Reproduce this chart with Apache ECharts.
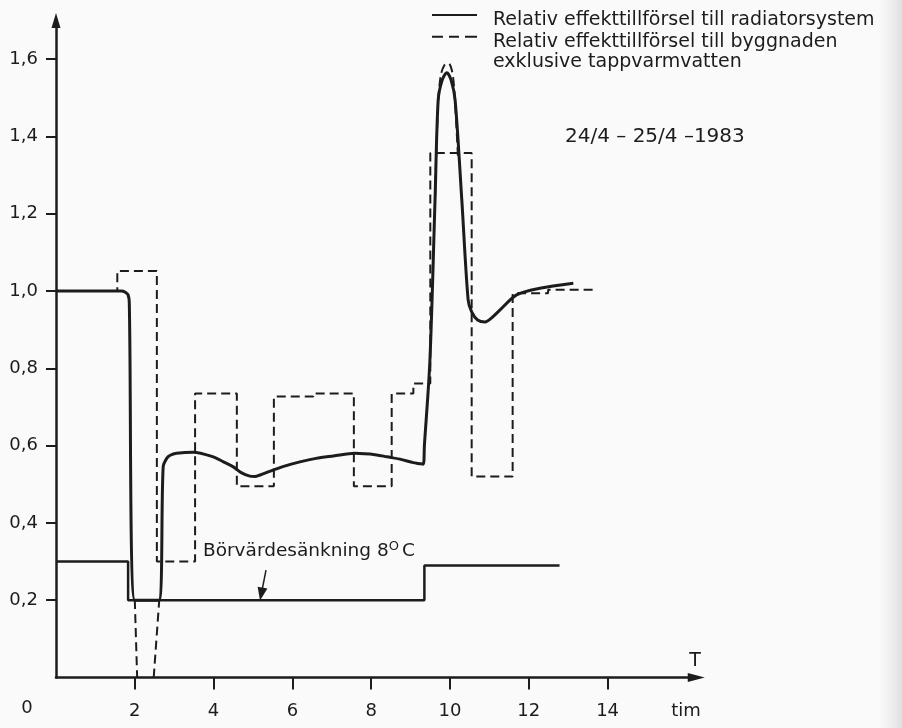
<!DOCTYPE html>
<html><head><meta charset="utf-8">
<script src="https://cdn.jsdelivr.net/npm/echarts@6/dist/echarts.min.js"></script>
<style>html,body{margin:0;padding:0;background:#fafafa}#c{width:902px;height:728px}</style>
</head><body><div id="c"></div>
<script>
// ---- data (time in hours, relative power) ----
const seriesNames = [
  'Relativ effekttillförsel till radiatorsystem',
  'Relativ effekttillförsel till byggnaden exklusive tappvarmvatten'
];
const setpointName = 'Börvärdesänkning 8°C';

// solid: radiator system
const radiatorT = [0, 1.66, 1.76, 1.83, 1.86, 2.0, 2.61, 2.72, 2.81, 2.9, 3.06, 3.48, 3.99, 4.25, 4.5, 4.7, 4.92, 5.05, 5.18, 5.52, 5.8, 6.19, 6.6, 7.04, 7.59, 8.14, 8.4, 8.73, 9.07, 9.2, 9.32, 9.35, 9.49, 9.62, 9.70, 9.80, 9.92, 10.03, 10.13, 10.30, 10.46, 10.55, 10.7, 10.89, 11.05, 11.27, 11.69, 12.28, 13.13];
const radiatorV = [1.0, 1.0, 0.997, 0.99, 0.97, 0.2, 0.2, 0.545, 0.567, 0.575, 0.58, 0.583, 0.571, 0.558, 0.545, 0.53, 0.521, 0.52, 0.524, 0.537, 0.547, 0.558, 0.567, 0.573, 0.58, 0.576, 0.571, 0.565, 0.556, 0.554, 0.552, 0.6, 0.82, 1.235, 1.494, 1.545, 1.565, 1.545, 1.494, 1.235, 0.977, 0.946, 0.925, 0.92, 0.93, 0.951, 0.99, 1.007, 1.02];

// dashed: building, hourly step levels (level holds from t until next t)
const buildingStepT = [0, 1.556, 2.56, 3.53, 4.59, 5.53, 6.53, 7.56, 8.52, 9.07, 9.50, 10.55, 11.59, 12.49, 13.64];
const buildingStepV = [1.0, 1.052, 0.30, 0.735, 0.495, 0.727, 0.735, 0.495, 0.735, 0.761, 1.357, 0.52, 0.994, 1.003, 1.003];

// dashed: building, transients (null = gap)
const buildingTransT = [2.0, 2.06, 2.27, 2.48, 2.62, 6.0, 9.62, 9.70, 9.77, 9.86, 9.96, 10.05, 10.11, 10.2];
const buildingTransV = [0.2, 0.0, null, 0.0, 0.2, null, 1.24, 1.49, 1.56, 1.585, 1.59, 1.57, 1.52, 1.35];

// setpoint reduction curve
const setpointT = [0, 1.83, 9.35, 12.78];
const setpointV = [0.3, 0.2, 0.29, 0.29];

// annotation arrow (data space)
const arrowT = [5.33, 5.21];
const arrowV = [0.278, 0.216];

// ticks
const xTicks = [2, 4, 6, 8, 10, 12, 14];
const yTicks = [0.2, 0.4, 0.6, 0.8, 1.0, 1.2, 1.4, 1.6];

// ---- chart ----
const INK = '#1c1c1c';
const FONT = '"DejaVu Sans", sans-serif';
const zip = (T, V) => T.map((t, i) => [t, V[i] === null ? '-' : V[i]]);
const legendText = {fontSize: 19, lineHeight: 20, fontFamily: FONT, color: INK};
// legend key glyphs (line sample sits near the top of the key box so the text starts a little lower)
const solidKey = 'path://M0,0H45V2H0Z M56,12L56,12.01Z';
const dashedKey = 'path://M0,0L0,0.01Z M0,3.2H11V5.2H0Z M17,3.2H27V5.2H17Z M33,3.2H45V5.2H33Z M56,40L56,39.99Z';

const chart = echarts.init(document.getElementById('c'), null, {renderer: 'canvas'});
chart.setOption({
  backgroundColor: '#fafafa',
  animation: false,
  color: [INK, INK, INK, INK],
  grid: {left: 56, right: 205.75, top: 20.5, bottom: 50.5, containLabel: false, outerBoundsMode: 'none'},
  xAxis: {
    type: 'value', min: 0, max: 16.25,
    axisLine: {show: true, onZero: false, symbol: ['none', 'triangle'], symbolSize: [9, 17], lineStyle: {color: INK, width: 2.5}},
    axisTick: {show: true, customValues: xTicks, length: 12, lineStyle: {color: INK, width: 2}},
    axisLabel: {customValues: xTicks, margin: 25, fontSize: 18, fontFamily: FONT, color: INK},
    splitLine: {show: false}
  },
  yAxis: {
    type: 'value', min: 0, max: 1.7,
    axisLine: {show: true, onZero: false, symbol: ['none', 'triangle'], symbolSize: [9, 15], lineStyle: {color: INK, width: 2.5}},
    axisTick: {show: true, customValues: yTicks, length: 10, lineStyle: {color: INK, width: 2}},
    axisLabel: {customValues: yTicks, margin: 18, fontSize: 18, fontFamily: FONT, color: INK,
      formatter: v => v.toFixed(1).replace('.', ',')},
    splitLine: {show: false}
  },
  legend: [
    {
      data: [{name: seriesNames[0], icon: solidKey}],
      left: 432, top: 10, padding: 0, orient: 'vertical', selectedMode: false,
      itemWidth: 56, itemHeight: 12, symbolKeepAspect: false,
      itemStyle: {color: INK, borderWidth: 0},
      textStyle: legendText
    },
    {
      data: [{name: seriesNames[1], icon: dashedKey}],
      left: 432, top: 32.5, padding: 0, orient: 'vertical', selectedMode: false,
      itemWidth: 56, itemHeight: 40, symbolKeepAspect: false,
      itemStyle: {color: INK, borderWidth: 0},
      formatter: n => n.replace(' exklusive', '\nexklusive'),
      textStyle: legendText
    }
  ],
  series: [
    {
      name: setpointName, type: 'line', step: 'end', data: zip(setpointT, setpointV),
      symbol: 'none', silent: true, z: 2,
      lineStyle: {color: INK, width: 2.5},
      markLine: {
        silent: true, symbol: ['none', 'triangle'], symbolSize: [10, 13],
        label: {show: false}, emphasis: {disabled: true},
        lineStyle: {color: INK, width: 1.5, type: 'solid'},
        data: [[{coord: [arrowT[0], arrowV[0]]}, {coord: [arrowT[1], arrowV[1]]}]]
      }
    },
    {
      name: seriesNames[0], type: 'line', data: zip(radiatorT, radiatorV),
      symbol: 'none', silent: true, z: 3, smooth: 0.3,
      lineStyle: {color: INK, width: 3}
    },
    {
      name: seriesNames[1], type: 'line', step: 'end', data: zip(buildingStepT, buildingStepV),
      symbol: 'none', silent: true, z: 4,
      lineStyle: {color: INK, width: 2, type: [9, 5]}
    },
    {
      name: seriesNames[1], type: 'line', data: zip(buildingTransT, buildingTransV),
      symbol: 'none', silent: true, z: 4, connectNulls: false, smooth: 0.3,
      lineStyle: {color: INK, width: 2, type: [9, 5]}
    }
  ],
  graphic: [
    {type: 'rect', left: 878, top: 0, z: -10, silent: true,
     shape: {width: 24, height: 728},
     style: {fill: new echarts.graphic.LinearGradient(0, 0, 1, 0, [{offset: 0, color: 'rgba(230,230,230,0)'}, {offset: 1, color: 'rgba(225,225,225,1)'}])}},
    {type: 'text', x: 565, y: 137, silent: true,
     style: {text: '24/4 – 25/4 –1983', fontSize: 20, fontFamily: FONT, fill: INK, align: 'left', verticalAlign: 'middle'}},
    {type: 'text', x: 203, y: 551, silent: true,
     style: {text: '{a|Börvärdesänkning 8}{s|O}{a|C}', fill: INK, align: 'left', verticalAlign: 'middle',
       rich: {a: {fontSize: 18.5, fontFamily: FONT, fill: INK}, s: {fontSize: 13, fontFamily: FONT, fill: INK, padding: [0, 3, 9, 0]}}}},
    {type: 'text', x: 695, y: 661, silent: true,
     style: {text: 'T', fontSize: 19, fontFamily: FONT, fill: INK, align: 'center', verticalAlign: 'middle'}},
    {type: 'text', x: 686, y: 711, silent: true,
     style: {text: 'tim', fontSize: 18, fontFamily: FONT, fill: INK, align: 'center', verticalAlign: 'middle'}},
    {type: 'text', x: 27, y: 708, silent: true,
     style: {text: '0', fontSize: 18, fontFamily: FONT, fill: INK, align: 'center', verticalAlign: 'middle'}}
  ]
});
</script>
</body></html>
